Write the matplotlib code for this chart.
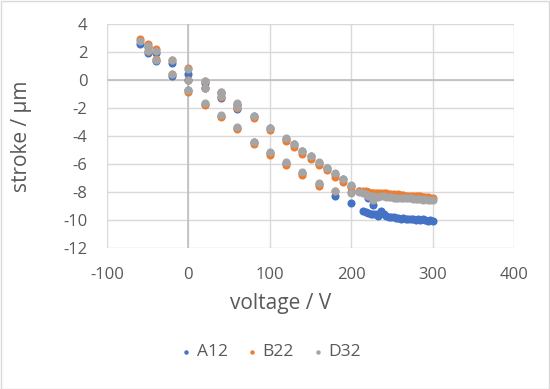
import matplotlib.pyplot as plt
from matplotlib.patches import Rectangle

# voltage steps (V) and stroke (um) for the three samples
voltage = [-60, -50, -50, -40, -40, -20, -20, 0, 0, 0, 20, 20, 20, 40, 40, 40,
           60, 60, 60, 80, 80, 100, 100, 120, 120, 130, 140, 140, 150, 160, 160,
           170, 180, 180, 190, 200, 200, 210,
           215, 218, 221, 221, 224, 227, 227, 230, 233, 237, 240, 243, 246, 249,
           252, 255, 258, 261, 264, 267, 270, 273, 276, 279, 282, 285, 288, 291,
           294, 297, 300]

a12 = [2.55, 2.35, 1.95, 1.95, 1.35, 1.2, 0.3, 0.45, 0.0, -0.7, -0.2, -0.6, -1.7,
       -0.95, -1.25, -2.6, -1.8, -2.1, -3.4, -2.6, -4.45, -3.45, -5.2, -4.2, -5.9,
       -4.6, -5.05, -6.65, -5.45, -5.9, -7.4, -6.25, -6.7, -8.25, -7.05, -7.55,
       -8.8, -7.95,
       -9.35, -9.45, -8.45, -9.5, -9.55, -8.9, -9.6, -9.6, -9.7, -9.35, -9.6,
       -9.7, -9.75, -9.8, -9.8, -9.85, -9.85, -9.9, -9.85, -9.9, -9.95, -9.9,
       -9.95, -10.0, -9.95, -10.0, -9.95, -10.0, -10.05, -10.0, -10.05]

b22 = [2.9, 2.55, 2.1, 2.2, 1.5, 1.45, 0.4, 0.85, 0.0, -0.85, -0.05, -0.6, -1.75,
       -0.85, -1.2, -2.65, -1.7, -2.0, -3.5, -2.7, -4.55, -3.55, -5.35, -4.35,
       -6.05, -4.8, -5.25, -6.8, -5.65, -6.05, -7.55, -6.45, -6.9, -7.95, -7.25,
       -7.65, -8.0, -7.95,
       -7.9, -7.95, -8.0, -8.0, -8.05, -8.05, -8.1, -8.1, -8.1, -8.05, -8.1,
       -8.1, -8.15, -8.15, -8.15, -8.2, -8.15, -8.2, -8.2, -8.25, -8.25, -8.25,
       -8.3, -8.25, -8.3, -8.3, -8.35, -8.35, -8.35, -8.4, -8.4]

d32 = [2.8, 2.45, 2.05, 2.1, 1.45, 1.4, 0.4, 0.8, 0.0, -0.7, -0.05, -0.55, -1.65,
       -0.85, -1.15, -2.5, -1.65, -1.95, -3.35, -2.55, -4.4, -3.4, -5.15, -4.15,
       -5.85, -4.6, -5.05, -6.6, -5.45, -5.85, -7.35, -6.25, -6.65, -7.95, -7.05,
       -7.5, -8.1, -8.0,
       -8.1, -8.15, -8.2, -8.25, -8.3, -8.6, -8.3, -8.35, -8.35, -8.3, -8.3,
       -8.35, -8.35, -8.35, -8.4, -8.4, -8.4, -8.4, -8.45, -8.45, -8.45, -8.45,
       -8.5, -8.5, -8.5, -8.5, -8.55, -8.5, -8.55, -8.55, -8.55]

series = [('A12', a12, '#4472C4'), ('B22', b22, '#ED7D31'), ('D32', d32, '#A5A5A5')]

plt.rcParams['font.family'] = ['Open Sans', 'DejaVu Sans']
plt.rcParams['axes.unicode_minus'] = False

fig = plt.figure(figsize=(5.5, 3.89), dpi=100)
ax = fig.add_axes([107 / 550, 1 - 248 / 389, 407 / 550, 224 / 389])

for name, vals, col in series:
    ax.scatter(voltage, vals, s=34, color=col, label=name, zorder=3, linewidths=0)

ax.set_xlim(-100, 400)
ax.set_ylim(-12, 4)
ax.set_xticks(range(-100, 401, 100))
ax.set_yticks(range(-12, 5, 2))
ax.grid(True, color='#D9D9D9', lw=1)
ax.set_axisbelow(True)
ax.axhline(0, color='#BFBFBF', lw=1.2, zorder=1)
ax.axvline(0, color='#BFBFBF', lw=1.2, zorder=1)
for s in ax.spines.values():
    s.set_visible(False)
ax.tick_params(length=0, labelsize=12, colors='#595959')
ax.tick_params(axis='x', pad=14)
ax.tick_params(axis='y', pad=14)

fig.text(22 / 550, 1 - 136 / 389, 'stroke / µm', rotation=90, ha='center', va='center',
         fontsize=15, color='#595959')
fig.text(281 / 550, 1 - 303 / 389, 'voltage / V', ha='center', va='center',
         fontsize=15, color='#595959')

leg = fig.legend(loc='center', bbox_to_anchor=(271 / 550, 1 - 352 / 389), ncol=3,
                 frameon=False, fontsize=12.5, handletextpad=0.3, columnspacing=1.1,
                 handlelength=0.6, markerscale=0.55, labelcolor='#595959')

fig.patches.append(Rectangle((0.001, 0.001), 0.997, 0.997, transform=fig.transFigure,
                             fill=False, edgecolor='#D9D9D9', lw=1))

fig.savefig('out.png', dpi=100)
